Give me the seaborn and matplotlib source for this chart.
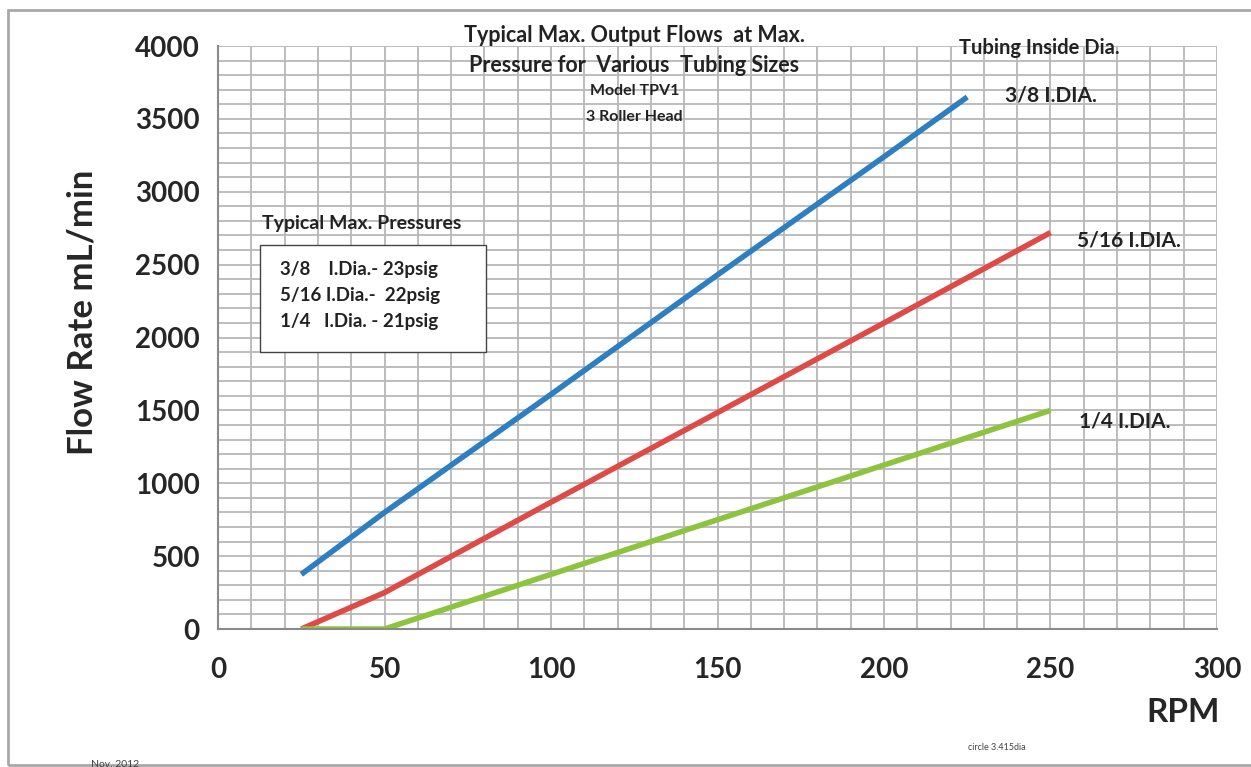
import numpy as np
import pandas as pd
import matplotlib
matplotlib.use("Agg")
import matplotlib.pyplot as plt
import seaborn as sns
from matplotlib.patches import Rectangle

# Datos
rpm_38 = [25, 50, 100, 150, 200, 225]
flow_38 = [375, 800, 1610, 2430, 3240, 3650]

rpm_516 = [25, 50, 100, 150, 200, 250]
flow_516 = [0, 250, 870, 1485, 2100, 2720]

rpm_14 = [25, 50, 100, 150, 200, 250]
flow_14 = [0, 0, 375, 750, 1125, 1500]

series_labels = ["3/8 I.DIA.", "5/16 I.DIA.", "1/4 I.DIA."]
series_colors = ["#2e7fc2", "#de4a46", "#8dc43f"]

pressure_lines = ["3/8    I.Dia.- 23psig", "5/16 I.Dia.-  22psig", "1/4   I.Dia. - 21psig"]

sns.set_style("white")
plt.rcParams["font.family"] = ["Lato", "DejaVu Sans"]

fig = plt.figure(figsize=(12.51, 7.67), dpi=100)
ax = fig.add_axes([0.1743, 0.1799, 0.7985, 0.7601])

df = pd.concat([
    pd.DataFrame({"RPM": rpm_38, "Flow": flow_38, "Tubing": series_labels[0]}),
    pd.DataFrame({"RPM": rpm_516, "Flow": flow_516, "Tubing": series_labels[1]}),
    pd.DataFrame({"RPM": rpm_14, "Flow": flow_14, "Tubing": series_labels[2]}),
])

sns.lineplot(data=df, x="RPM", y="Flow", hue="Tubing", palette=series_colors,
             linewidth=4.0, legend=False, ax=ax, estimator=None, sort=False,
             solid_capstyle="butt")

ax.set_xlim(0, 300)
ax.set_ylim(0, 4000)
ax.set_xticks(np.arange(0, 301, 50))
ax.set_yticks(np.arange(0, 4001, 500))
ax.set_xticks(np.arange(0, 301, 10), minor=True)
ax.set_yticks(np.arange(0, 4001, 100), minor=True)
ax.grid(which="both", color="#b8b8b8", linewidth=1.3)
ax.set_axisbelow(True)
ax.tick_params(which="major", width=1.3, color="#8a8a8a", labelsize=20)
ax.tick_params(axis="y", length=7, pad=6)
ax.tick_params(axis="x", length=8, pad=12)
ax.tick_params(which="minor", length=0)
for lab in ax.get_xticklabels() + ax.get_yticklabels():
    lab.set_fontweight("bold")
for s in ["left", "bottom"]:
    ax.spines[s].set_color("#8a8a8a")
    ax.spines[s].set_linewidth(1.5)
for s in ["top", "right"]:
    ax.spines[s].set_visible(False)

ax.set_xlabel("")
ax.set_ylabel("")
fig.text(0.066, 0.593, "Flow Rate mL/min", rotation=90, ha="center", va="center",
         fontsize=25, fontweight="bold")
fig.text(0.946, 0.071, "RPM", ha="center", va="center", fontsize=24, fontweight="bold")

# titulos
txt = dict(ha="center", va="center", fontweight="bold", color="#222222")
fig.text(0.507, 0.954, "Typical Max. Output Flows  at Max.", fontsize=15.5, **txt)
fig.text(0.507, 0.914, "Pressure for  Various  Tubing Sizes", fontsize=15.5, **txt)
fig.text(0.507, 0.881, "Model TPV1", fontsize=11.5, **txt)
fig.text(0.507, 0.848, "3 Roller Head", fontsize=11.5, **txt)

fig.text(0.8305, 0.937, "Tubing Inside Dia.", fontsize=14.5, **txt)
fig.text(0.840, 0.875, series_labels[0], fontsize=15, **txt)
fig.text(0.9025, 0.687, series_labels[1], fontsize=15, **txt)
fig.text(0.899, 0.451, series_labels[2], fontsize=15, **txt)

# cuadro de presiones
fig.text(262 / 1251, 0.708, "Typical Max. Pressures", ha="left", va="center",
         fontsize=14, fontweight="bold", color="#222222")
fig.patches.append(Rectangle((260 / 1251, 1 - 352 / 767), 226 / 1251, 107 / 767,
                             transform=fig.transFigure, fill=True, facecolor="white",
                             edgecolor="#444444", linewidth=1.0, zorder=2))
for i, t in enumerate(pressure_lines):
    fig.text(280 / 1251, 1 - (269 + i * 26.5) / 767, t, ha="left", va="center",
             fontsize=13.5, fontweight="bold", color="#222222", zorder=3)

fig.text(0.797, 0.025, "circle 3.415dia", ha="center", va="center", fontsize=6.5,
         color="#444444")
fig.text(0.092, 0.003, "Nov. 2012", ha="center", va="center", fontsize=7.5,
         color="#444444")

# borde
fig.patches.append(Rectangle((8 / 1251, 2 / 767), 1.2, 1 - 12 / 767,
                             transform=fig.transFigure, fill=False,
                             edgecolor="#a8a8a8", linewidth=2))

fig.savefig("out.png", dpi=100)
